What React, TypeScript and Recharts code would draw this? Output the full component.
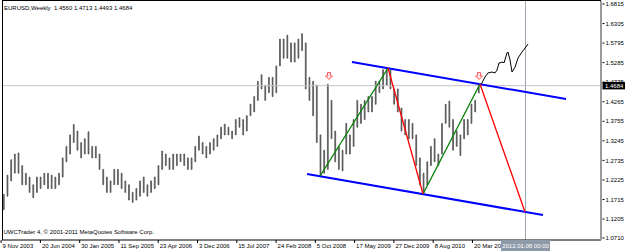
import React from 'react';
import { ComposedChart, Bar, Line, XAxis, YAxis, ReferenceLine, ReferenceDot } from 'recharts';

// weekly EURUSD, grouped in blocks of 3 weeks starting 9 Nov 2003 (week 0)
const BLOCK_WEEKS = 3;
const highs = [
  1.185, 1.235, 1.275, 1.29, 1.293, 1.26, 1.24, 1.23, 1.21, 1.23,
  1.23, 1.24, 1.24, 1.235, 1.23, 1.24, 1.28, 1.31, 1.34, 1.367,
  1.35, 1.32, 1.33, 1.348, 1.31, 1.31, 1.29, 1.25, 1.23, 1.22,
  1.25, 1.25, 1.24, 1.22, 1.21, 1.19, 1.2, 1.22, 1.23, 1.21,
  1.22, 1.23, 1.26, 1.298, 1.29, 1.28, 1.29, 1.29, 1.29, 1.29,
  1.28, 1.28, 1.31, 1.337, 1.32, 1.31, 1.32, 1.33, 1.34, 1.36,
  1.368, 1.36, 1.35, 1.38, 1.385, 1.38, 1.39, 1.42, 1.44, 1.48,
  1.497, 1.47, 1.49, 1.49, 1.52, 1.59, 1.59, 1.6, 1.58, 1.58,
  1.59, 1.604, 1.58, 1.49, 1.48, 1.47, 1.34, 1.3, 1.472, 1.43,
  1.35, 1.31, 1.3, 1.37, 1.34, 1.38, 1.43, 1.42, 1.43, 1.44,
  1.44, 1.48, 1.48, 1.51, 1.514, 1.51, 1.46, 1.46, 1.41, 1.38,
  1.38, 1.37, 1.34, 1.28, 1.24, 1.27, 1.31, 1.33, 1.29, 1.37,
  1.42, 1.428, 1.38, 1.35, 1.34, 1.38, 1.38, 1.42, 1.43, 1.4713,
];
const lows = [
  1.145, 1.18, 1.22, 1.24, 1.24, 1.21, 1.21, 1.19, 1.176, 1.19,
  1.2, 1.21, 1.2, 1.2, 1.2, 1.21, 1.23, 1.27, 1.29, 1.32,
  1.3, 1.28, 1.29, 1.29, 1.28, 1.28, 1.25, 1.21, 1.19, 1.19,
  1.21, 1.21, 1.2, 1.19, 1.17, 1.164, 1.17, 1.18, 1.19, 1.18,
  1.19, 1.2, 1.21, 1.25, 1.26, 1.25, 1.25, 1.26, 1.27, 1.26,
  1.25, 1.25, 1.27, 1.3, 1.29, 1.28, 1.29, 1.3, 1.31, 1.33,
  1.34, 1.34, 1.33, 1.34, 1.36, 1.34, 1.35, 1.39, 1.4, 1.43,
  1.46, 1.43, 1.45, 1.44, 1.45, 1.52, 1.54, 1.54, 1.53, 1.53,
  1.54, 1.56, 1.46, 1.43, 1.39, 1.32, 1.233, 1.24, 1.25, 1.33,
  1.27, 1.25, 1.246, 1.29, 1.29, 1.31, 1.36, 1.37, 1.38, 1.4,
  1.4, 1.42, 1.45, 1.46, 1.47, 1.46, 1.42, 1.4, 1.35, 1.34,
  1.33, 1.33, 1.26, 1.21, 1.188, 1.21, 1.26, 1.27, 1.26, 1.29,
  1.37, 1.36, 1.3, 1.31, 1.286, 1.33, 1.34, 1.37, 1.4, 1.4493,
];

// hand-drawn objects: [week, price]
const channelTop = [[284.6, 1.5302], [459.0, 1.4337]];
const channelBottom = [[248.0, 1.238], [440.2, 1.131]];
const greenLegs = [
  [[258.6, 1.2328], [314.0, 1.5145]],
  [[342.5, 1.1858], [388.9, 1.4728]],
];
const redLegs = [
  [[314.0, 1.5145], [342.5, 1.1858]],
  [[388.9, 1.4728], [425.6, 1.1388]],
];
const projWeeks = [389.7, 390.5, 393.0, 395.4, 398.7, 401.1, 402.8, 404.4, 407.7, 408.5, 410.9, 411.7, 413.4, 415.0, 417.5, 419.9, 423.2, 425.6, 428.1];
const projPrices = [1.4728, 1.4754, 1.4911, 1.5015, 1.5041, 1.5015, 1.5093, 1.5276, 1.5302, 1.5276, 1.5537, 1.5563, 1.5354, 1.5041, 1.5171, 1.5406, 1.5563, 1.5667, 1.5771];
const arrowMarks = [[265.9, 1.4937], [388.1, 1.4937]];

const dateTicks = [0, 32, 64, 96, 128, 160, 192, 224, 256, 288, 320, 352, 384];
const dateLabels = ['9 Nov 2003', '20 Jun 2004', '30 Jan 2005', '11 Sep 2005', '23 Apr 2006', '3 Dec 2006', '15 Jul 2007', '24 Feb 2008', '5 Oct 2008', '17 May 2009', '27 Dec 2009', '8 Aug 2010', '20 Mar 2011'];
const priceTicks = [1.6815, 1.6305, 1.5795, 1.5285, 1.4775, 1.4265, 1.3755, 1.3245, 1.2735, 1.2225, 1.1715, 1.1205, 1.071];

const LAST_PRICE = 1.4684;
const CURSOR_WEEK = 426;
const CURSOR_LABEL = '2012.01.08 00:00';
const HEADER = 'EURUSD,Weekly  1.4560 1.4713 1.4493 1.4684';
const COPYRIGHT = 'UWCTrader 4, \u00a9 2001-2011 MetaQuotes Software Corp.';

const FONT = 'Tahoma, "Liberation Sans", Arial, sans-serif';

const bars = highs.map((h, i) => ({ w: i * BLOCK_WEEKS + 1, range: [lows[i], h] }));
const projection = projWeeks.map((w, i) => ({ w, p: projPrices[i] }));
const seg = (s: number[][]) => s.map(([x, y]) => ({ x, y }));

function DateTick({ x, y, payload }: any) {
  if (payload.value === CURSOR_WEEK) {
    return (
      <g>
        <rect x={x - 24.5} y={y} width={49} height={11} fill="#8e9aa8" />
        <text x={x} y={y + 8} textAnchor="middle" fill="#fff" fontSize={6} fontFamily={FONT}>{CURSOR_LABEL}</text>
      </g>
    );
  }
  const label = dateLabels[dateTicks.indexOf(payload.value)];
  return (
    <g>
      <line x1={x - 1.5} x2={x - 1.5} y1={y} y2={y + 3} stroke="#000" />
      <text x={x} y={y + 8} fill="#000" fontSize={6} fontFamily={FONT}>{label}</text>
    </g>
  );
}

function PriceTick({ x, y, payload }: any) {
  const v = payload.value;
  if (v === LAST_PRICE) {
    return (
      <g>
        <rect x={x + 1.5} y={y - 3.8} width={23} height={7.5} fill="#000" />
        <text x={x + 4} y={y + 2.2} fill="#fff" fontSize={6} fontFamily={FONT}>{v.toFixed(4)}</text>
      </g>
    );
  }
  return (
    <g>
      <line x1={x + 1.5} x2={x + 3.5} y1={y} y2={y} stroke="#000" />
      <text x={x + 4.5} y={y + 2.2} fill="#000" fontSize={6} fontFamily={FONT}>{v.toFixed(4)}</text>
    </g>
  );
}

function DownArrow({ cx, cy }: any) {
  const d = `M${cx - 1.5} ${cy - 3.5} H${cx + 1.5} V${cy} H${cx + 3.5} L${cx} ${cy + 3.5} L${cx - 3.5} ${cy} H${cx - 1.5} Z`;
  return <path d={d} fill="#ffe4e4" stroke="#ff4a4a" strokeWidth={0.9} />;
}

export default function App() {
  return (
    <div style={{ position: 'fixed', left: 0, top: 0, width: 625, height: 251, background: '#fff' }}>
      <ComposedChart width={625} height={251} data={bars} margin={{ top: 1, right: 0, bottom: 0, left: 2 }}>
        <XAxis
          type="number"
          dataKey="w"
          domain={[-0.5, 487.5]}
          allowDataOverflow
          ticks={[...dateTicks, CURSOR_WEEK]}
          interval={0}
          height={11}
          tickSize={0}
          tickMargin={0}
          tickLine={false}
          axisLine={{ stroke: '#000' }}
          tick={<DateTick />}
        />
        <YAxis
          type="number"
          orientation="right"
          domain={[1.0658, 1.6893]}
          allowDataOverflow
          ticks={[...priceTicks, LAST_PRICE]}
          interval={0}
          width={24}
          tickSize={0}
          tickMargin={0}
          tickLine={false}
          axisLine={{ stroke: '#9a9a9a', strokeWidth: 2 }}
          tick={<PriceTick />}
        />
        <ReferenceLine y={LAST_PRICE} stroke="#c4c4c4" />
        <ReferenceLine x={CURSOR_WEEK} stroke="#9ea8b2" />
        <Bar dataKey="range" fill="#8a8a8a" stroke="#2e2e2e" strokeWidth={0.6} barSize={3.6} isAnimationActive={false} />
        <ReferenceLine segment={seg(channelTop)} stroke="#0000ff" strokeWidth={2} />
        <ReferenceLine segment={seg(channelBottom)} stroke="#0000ff" strokeWidth={2} />
        {greenLegs.map((s, i) => (
          <ReferenceLine key={'g' + i} segment={seg(s)} stroke="#008000" strokeWidth={1.3} />
        ))}
        {redLegs.map((s, i) => (
          <ReferenceLine key={'r' + i} segment={seg(s)} stroke="#ff0000" strokeWidth={1.3} />
        ))}
        <Line data={projection} dataKey="p" stroke="#000" strokeWidth={1} dot={false} type="linear" isAnimationActive={false} />
        {arrowMarks.map(([w, p], i) => (
          <ReferenceDot key={'a' + i} x={w} y={p} r={4} shape={(props: any) => <DownArrow cx={props.cx} cy={props.cy} />} />
        ))}
      </ComposedChart>
      <svg width={625} height={251} style={{ position: 'absolute', left: 0, top: 0, pointerEvents: 'none' }}>
        <line x1={2} x2={601} y1={0.5} y2={0.5} stroke="#000" />
        <line x1={2.5} x2={2.5} y1={0} y2={240} stroke="#000" />
        <text x={4} y={9.5} fontSize={6} fontFamily={FONT} fill="#000" style={{ whiteSpace: 'pre' }}>{HEADER}</text>
        <text x={3.5} y={234} fontSize={6} fontFamily={FONT} fill="#000">{COPYRIGHT}</text>
      </svg>
    </div>
  );
}
